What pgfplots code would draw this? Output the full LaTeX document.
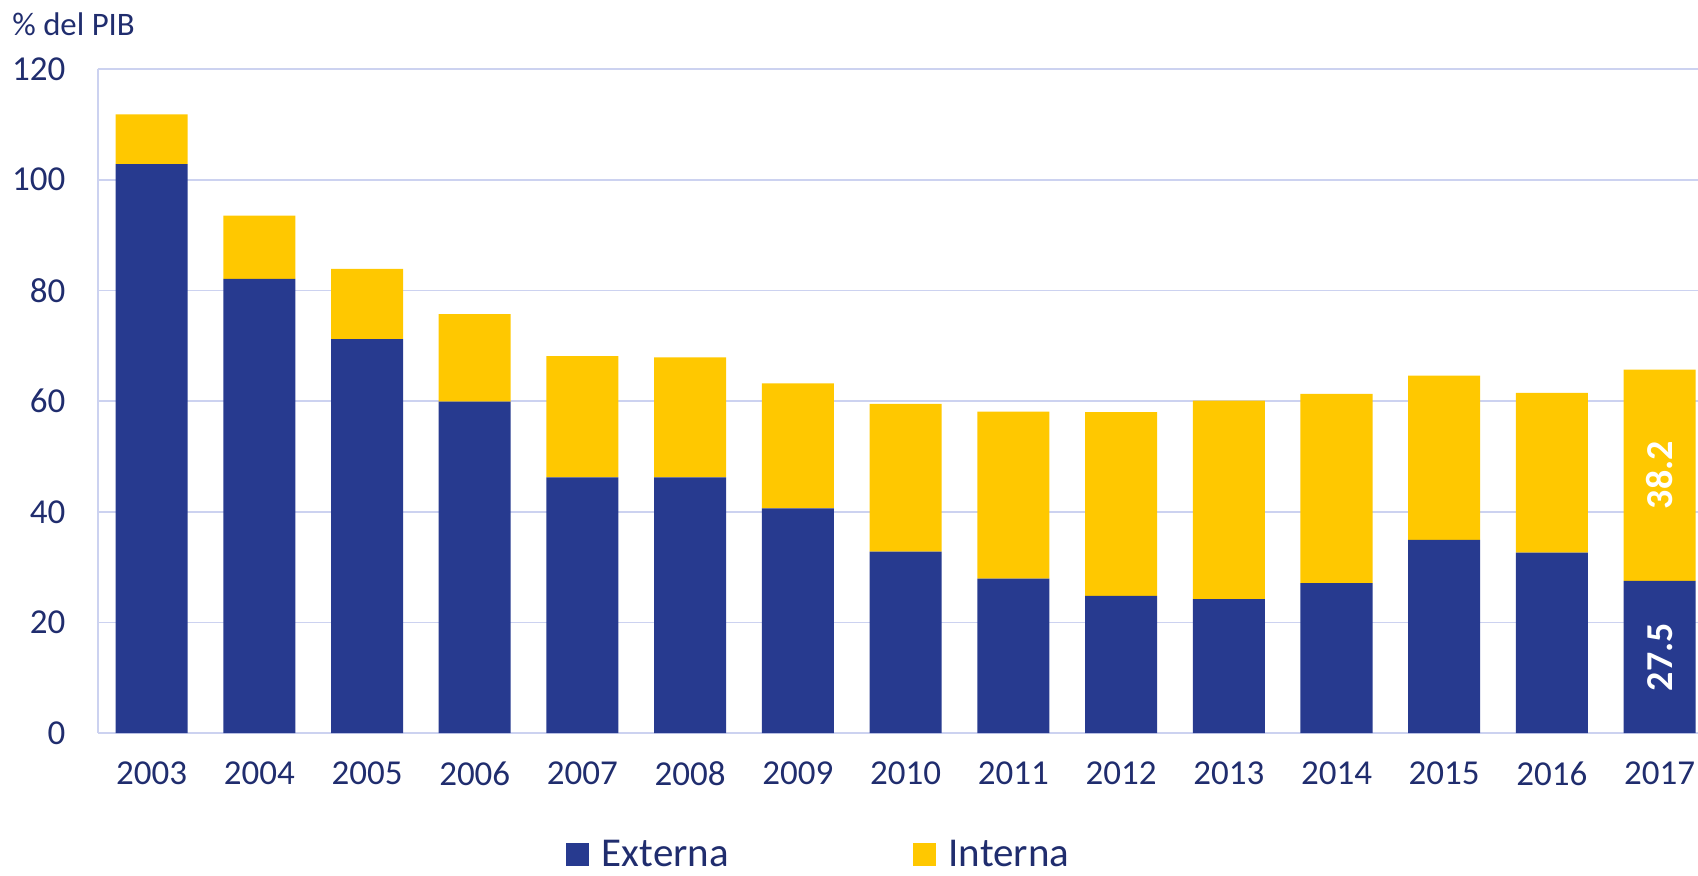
\documentclass[border=0pt]{standalone}
\usepackage{pgfplots}
\pgfplotsset{compat=1.18}
\usepackage{fontspec}
\setmainfont{Carlito}
\definecolor{extblue}{RGB}{39,58,143}
\definecolor{intyel}{RGB}{255,200,0}
\definecolor{txtnavy}{RGB}{32,45,110}
\definecolor{gridc}{RGB}{204,210,240}
\begin{document}
\begin{tikzpicture}
\begin{axis}[
  scale only axis,
  width=800pt, height=332pt,
  xmin=-0.5, xmax=14.356,
  ymin=0, ymax=120,
  ybar stacked,
  bar width=36pt,
  axis x line=bottom, axis y line=left,
  axis line style={-, draw=gridc, line width=0.8pt},
  ymajorgrids, major grid style={draw=gridc, line width=0.8pt},
  xtick={0,...,14},
  xticklabels={2003,2004,2005,2006,2007,2008,2009,2010,2011,2012,2013,2014,2015,2016,2017},
  ytick={0,20,...,120},
  major tick length=0pt,
  /pgf/number format/assume math mode=true,
  ticklabel style={font=\fontsize{17.5}{20}\selectfont, text=txtnavy},
  xticklabel style={inner sep=0pt, anchor=north, yshift=-14pt},
  yticklabel style={inner sep=0pt, anchor=east, xshift=-16pt},
  legend style={draw=none, fill=none, at={(0.45,-0.183)}, anchor=center,
    font=\fontsize{20.5}{22}\selectfont, text=txtnavy, inner sep=0pt,
    nodes={inner sep=0pt},
    /tikz/every odd column/.append style={column sep=6.5pt},
    /tikz/every even column/.append style={column sep=92pt}},
  legend columns=2,
  legend image code/.code={\fill[#1] (0pt,-5.9pt) rectangle (11.25pt,5.9pt);},
  legend cell align=left,
]
\addplot[fill=extblue, draw=none] coordinates {
(0,102.8) (1,82.1) (2,71.2) (3,59.9) (4,46.2) (5,46.2) (6,40.6) (7,32.8)
(8,27.9) (9,24.8) (10,24.2) (11,27.1) (12,34.9) (13,32.6) (14,27.5)};
\addlegendentry{Externa}
\addplot[fill=intyel, draw=none] coordinates {
(0,9.0) (1,11.4) (2,12.7) (3,15.8) (4,21.9) (5,21.7) (6,22.6) (7,26.7)
(8,30.2) (9,33.2) (10,35.9) (11,34.2) (12,29.7) (13,28.9) (14,38.2)};
\addlegendentry{Interna}
\coordinate (lblA) at (axis cs:14,13.75);
\coordinate (lblB) at (axis cs:14,46.6);
\end{axis}
\node[rotate=90, text=white, font=\fontsize{19}{20}\selectfont\bfseries] at (lblA) {27.5};
\node[rotate=90, text=white, font=\fontsize{19}{20}\selectfont\bfseries] at (lblB) {38.2};
\node[anchor=west, inner sep=0pt, text=txtnavy, font=\fontsize{16.4}{18}\selectfont]
  at ([shift={(-42.85pt,22.5pt)}]current axis.north west) {\% del PIB};
\pgfresetboundingbox
\path ([shift={(-48.85pt,-71pt)}]current axis.south west) rectangle ([shift={(0pt,34.5pt)}]current axis.north east);
\end{tikzpicture}
\end{document}
